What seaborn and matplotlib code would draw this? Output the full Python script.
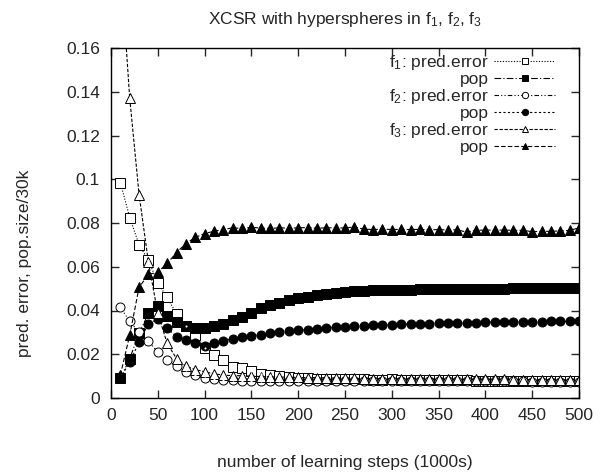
import numpy as np
import pandas as pd
import matplotlib
matplotlib.use("Agg")
import matplotlib.pyplot as plt
import seaborn as sns

steps = list(range(10, 501, 10))

f1_err = [0.0985, 0.0825, 0.070, 0.063, 0.0525, 0.046, 0.0385, 0.033, 0.029, 0.023,
          0.0196, 0.0173, 0.0142, 0.0137, 0.0123, 0.011, 0.0105, 0.010, 0.0095, 0.0092,
          0.009, 0.0088, 0.0087, 0.0087, 0.0086, 0.0085, 0.0085, 0.0084, 0.0084, 0.0085,
          0.0084, 0.0083, 0.0083, 0.0082, 0.0082, 0.0081, 0.0081, 0.0081, 0.008, 0.008,
          0.008, 0.008, 0.0079, 0.0079, 0.0079, 0.0078, 0.0078, 0.0078, 0.0077, 0.0077]
f1_pop = [0.009, 0.018, 0.0295, 0.0387, 0.042, 0.0375, 0.0347, 0.0328, 0.032, 0.0322,
          0.0328, 0.0337, 0.0355, 0.037, 0.0387, 0.041, 0.0424, 0.0433, 0.0447, 0.0455,
          0.0462, 0.047, 0.0476, 0.048, 0.0485, 0.0488, 0.049, 0.0492, 0.0493, 0.0495,
          0.0495, 0.0496, 0.0497, 0.0497, 0.0498, 0.0498, 0.0499, 0.0499, 0.05, 0.05,
          0.05, 0.05, 0.0501, 0.0501, 0.0501, 0.0501, 0.0502, 0.0502, 0.0502, 0.0502]
f2_err = [0.0415, 0.035, 0.030, 0.026, 0.021, 0.0175, 0.0145, 0.012, 0.0105, 0.0092,
          0.0085, 0.0082, 0.0081, 0.008, 0.008, 0.008, 0.008, 0.008, 0.008, 0.008,
          0.008, 0.008, 0.008, 0.008, 0.008, 0.008, 0.008, 0.008, 0.0079, 0.0079,
          0.0079, 0.0078, 0.0078, 0.0078, 0.0078, 0.0077, 0.0077, 0.0077, 0.0077, 0.0076,
          0.0076, 0.0076, 0.0076, 0.0076, 0.0075, 0.0075, 0.0075, 0.0075, 0.0075, 0.0075]
f2_pop = [0.009, 0.0165, 0.0255, 0.034, 0.036, 0.032, 0.028, 0.0265, 0.025, 0.024,
          0.025, 0.0262, 0.027, 0.0278, 0.0284, 0.029, 0.0295, 0.030, 0.0305, 0.031,
          0.0313, 0.0317, 0.032, 0.0323, 0.0325, 0.0328, 0.033, 0.0332, 0.0334, 0.0335,
          0.0337, 0.0338, 0.0339, 0.034, 0.0341, 0.0342, 0.0343, 0.0344, 0.0345, 0.0346,
          0.0347, 0.0347, 0.0348, 0.0348, 0.0349, 0.0349, 0.035, 0.035, 0.035, 0.035]
f3_err = [0.20, 0.137, 0.093, 0.062, 0.0387, 0.025, 0.018, 0.0145, 0.013, 0.012,
          0.011, 0.0105, 0.0102, 0.0102, 0.010, 0.0098, 0.0097, 0.0096, 0.0095, 0.0094,
          0.0093, 0.0093, 0.0092, 0.0091, 0.009, 0.009, 0.0089, 0.0089, 0.0089, 0.0088,
          0.0088, 0.0088, 0.0087, 0.0087, 0.0087, 0.0086, 0.0086, 0.0086, 0.0085, 0.0085,
          0.0085, 0.0085, 0.0084, 0.0084, 0.0084, 0.0084, 0.0083, 0.0083, 0.0083, 0.0083]
f3_pop = [0.0105, 0.0287, 0.0506, 0.0565, 0.0575, 0.0615, 0.0665, 0.0706, 0.0734, 0.0752,
          0.0762, 0.077, 0.0778, 0.0775, 0.078, 0.0777, 0.0775, 0.0778, 0.0776, 0.0778,
          0.0779, 0.0776, 0.0778, 0.0778, 0.0777, 0.0782, 0.0772, 0.077, 0.0772, 0.077,
          0.0771, 0.077, 0.0771, 0.0769, 0.077, 0.0768, 0.0769, 0.0758, 0.0766, 0.0768,
          0.0767, 0.0768, 0.0766, 0.0767, 0.076, 0.0762, 0.0762, 0.0764, 0.0766, 0.0778]

labels = ["f$_1$: pred.error", "pop", "f$_2$: pred.error", "pop", "f$_3$: pred.error", "pop"]
xticks = [0, 50, 100, 150, 200, 250, 300, 350, 400, 450, 500]
yticks = [0, 0.02, 0.04, 0.06, 0.08, 0.1, 0.12, 0.14, 0.16]
ytick_labels = ["0", "0.02", "0.04", "0.06", "0.08", "0.1", "0.12", "0.14", "0.16"]

sns.set_style("ticks")
plt.rcParams['font.family'] = ['Liberation Sans', 'DejaVu Sans']
plt.rcParams['mathtext.fontset'] = 'custom'
plt.rcParams['mathtext.rm'] = 'Liberation Sans'
plt.rcParams['mathtext.it'] = 'Liberation Sans'

FS = 12.5
fig = plt.figure(figsize=(6.07, 4.75), dpi=100)
ax = fig.add_axes([111 / 607, 77 / 475, 468 / 607, 350 / 475])

series = [f1_err, f1_pop, f2_err, f2_pop, f3_err, f3_pop]
styles = [
    dict(marker="s", markerfacecolor="white", linestyle=(0, (1, 1.5)), markersize=6.5),
    dict(marker="s", markerfacecolor="black", linestyle=(0, (6, 2, 1, 2)), markersize=6.5),
    dict(marker="o", markerfacecolor="white", linestyle=(0, (4, 2, 1, 2, 1, 2)), markersize=6.5),
    dict(marker="o", markerfacecolor="black", linestyle=(0, (2, 2)), markersize=6.5),
    dict(marker="^", markerfacecolor="white", linestyle=(0, (3, 1.5)), markersize=6.5),
    dict(marker="^", markerfacecolor="black", linestyle=(0, (4, 2)), markersize=6.5),
]
for vals, lab, st in zip(series, labels, styles):
    df = pd.DataFrame({"steps": steps, "v": vals})
    sns.lineplot(data=df, x="steps", y="v", ax=ax, color="black", linewidth=0.8,
                 markeredgecolor="black", markeredgewidth=0.7, label=lab, **st)

# center dots of gnuplot open symbols
for vals in (f1_err, f2_err):
    df = pd.DataFrame({"steps": steps, "v": vals})
    sns.lineplot(data=df, x="steps", y="v", ax=ax, color="black", linestyle="none",
                 marker=".", markersize=1.5, legend=False)

ax.set_xlim(0, 500)
ax.set_ylim(0, 0.16)
ax.set_xticks(xticks)
ax.set_xticklabels([str(t) for t in xticks])
ax.set_yticks(yticks)
ax.set_yticklabels(ytick_labels)
ax.tick_params(direction="in", top=True, right=True, length=6, width=1, labelsize=FS)
ax.tick_params(axis="x", pad=7.5)
ax.tick_params(axis="y", pad=8)
for s in ax.spines.values():
    s.set_linewidth(1)
    s.set_color("black")

ax.set_xlabel("number of learning steps (1000s)", fontsize=FS)
ax.xaxis.set_label_coords(0.5, -0.183)
ax.xaxis.label.set_verticalalignment("center")
ax.set_ylabel("pred. error, pop.size/30k", fontsize=FS)
ax.yaxis.set_label_coords(-0.184, 0.386)
ax.yaxis.label.set_verticalalignment("center")
ax.set_title("XCSR with hyperspheres in f$_1$, f$_2$, f$_3$", fontsize=FS, pad=17)

leg = ax.legend(loc="upper right", frameon=False, markerfirst=False, fontsize=FS,
                handlelength=3.5, labelspacing=0.0, handletextpad=0.3,
                borderaxespad=0, borderpad=0, markerscale=0.7,
                bbox_to_anchor=((555 - 111) / 468, 0.986))

fig.savefig("out.png", dpi=100)
